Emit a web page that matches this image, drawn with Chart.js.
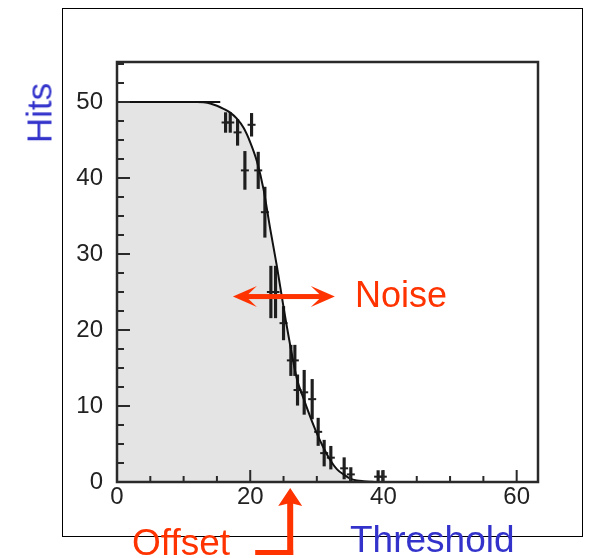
<!DOCTYPE html>
<html>
<head>
<meta charset="utf-8">
<script src="https://cdn.jsdelivr.net/npm/chart.js@4.4.1/dist/chart.umd.min.js"></script>
<style>
    body { margin: 0; background: #fff; }
    #wrap { position: relative; width: 593px; height: 558px; overflow: hidden; }
    #frame { position: absolute; left: 62px; top: 8px; width: 521px; height: 529px; box-sizing: border-box; border: 1px solid #000; }
    canvas { position: absolute; left: 0; top: 0; }
    .note { position: absolute; font-family: "Liberation Sans", Arial, sans-serif; line-height: 1; white-space: nowrap; }
    .red { color: #ff3300; }
    .blue { color: #3333cc; }
</style>
</head>
<body>
<div id="wrap">
    <div id="frame"></div>
    <canvas id="scurve" width="593" height="558"></canvas>
    <div class="note blue" style="left:39px; top:113px; font-size:35px; transform: translate(-50%, -50%) rotate(-90deg);">Hits</div>
    <div class="note blue" style="left:350px; top:521px; font-size:37px;">Threshold</div>
    <div class="note red" style="left:355px; top:277px; font-size:36px;">Noise</div>
    <div class="note red" style="left:132px; top:524px; font-size:37px;">Offset</div>
</div>
<script>
// Fitted S-curve: hits vs threshold
const thresholdSteps = [0, 1, 2, 3, 4, 5, 6, 7, 8, 9, 10, 11, 12, 13, 14, 15, 16, 17, 18, 19, 20,
    21, 22, 23, 24, 25, 26, 27, 28, 29, 30, 31, 32, 33, 34, 35, 36, 37, 38, 39, 40];
const fitHits = [50, 50, 50, 50, 50, 50, 50, 50, 50, 50, 50, 50, 50, 49.95, 49.8, 49.5, 49.1, 48.6, 47.8, 46.6, 44.7,
    42.2, 38.5, 33.3, 28.4, 23.0, 18.0, 13.6, 11.0, 8.6, 6.4, 4.5, 2.9, 1.7, 1.0, 0.45, 0.2, 0.1, 0.04, 0, 0];

// Plateau of the hit histogram
const plateauX = [0, 15.5];
const plateauHits = [50, 50];

// Measured points with their errors
const measThreshold = [16.3, 17.0, 18.1, 19.2, 20.2, 21.2, 22.2, 23.1, 23.8, 25.0, 26.1, 26.7, 27.1, 28.1,
    29.3, 30.2, 31.1, 32.1, 34.1, 35.1, 39.2, 39.9];
const measHits = [47.3, 47.3, 46.0, 41.0, 47.0, 41.0, 35.5, 25.0, 25.0, 20.9, 16.0, 16.0, 12.1, 11.8,
    10.9, 6.6, 3.8, 3.2, 1.8, 1.0, 0.7, 0.7];
const measErr = [1.3, 1.3, 1.7, 2.5, 1.5, 2.4, 3.3, 3.4, 3.4, 2.2, 2.0, 2.0, 2.0, 2.9,
    2.6, 1.8, 1.7, 1.5, 1.4, 0.9, 0.8, 0.8];

// Axis ticks
const xTickLabels = [0, 20, 40, 60];
const yTickLabels = [0, 10, 20, 30, 40, 50];
const xMinorStep = 5, xMajorStep = 20;
const yMinorStep = 2.5, yMajorStep = 10;

// Annotation anchors (data units)
const noiseFrom = 17.4, noiseTo = 32.7, noiseLevel = 24.4;
const offsetValue = 26.0;

const RED = '#ff3300';

const frameAndTicks = {
    id: 'frameAndTicks',
    afterDatasetsDraw(chart) {
        const { ctx, chartArea: a, scales: { x, y } } = chart;
        ctx.save();
        ctx.strokeStyle = '#2a2a2a';
        ctx.lineWidth = 2;
        ctx.beginPath();
        for (let v = 0; v <= x.max + 1e-6; v += xMinorStep) {
            const px = x.getPixelForValue(v);
            const len = v % xMajorStep === 0 ? 12 : 6;
            ctx.moveTo(px, a.bottom);
            ctx.lineTo(px, a.bottom - len);
        }
        for (let v = 0; v <= y.max + 1e-6; v += yMinorStep) {
            const py = y.getPixelForValue(v);
            const len = v % yMajorStep === 0 ? 13 : 7;
            ctx.moveTo(a.left, py);
            ctx.lineTo(a.left + len, py);
        }
        ctx.stroke();
        ctx.lineWidth = 2.5;
        ctx.strokeRect(a.left, a.top, a.right - a.left, a.bottom - a.top);
        ctx.restore();
    }
};

function arrowHead(ctx, tipX, tipY, dirX, dirY, len, half, notch) {
    // dir points from the tip back along the shaft
    const nx = -dirY, ny = dirX;
    ctx.beginPath();
    ctx.moveTo(tipX, tipY);
    ctx.lineTo(tipX + dirX * len + nx * half, tipY + dirY * len + ny * half);
    ctx.lineTo(tipX + dirX * notch, tipY + dirY * notch);
    ctx.lineTo(tipX + dirX * len - nx * half, tipY + dirY * len - ny * half);
    ctx.closePath();
    ctx.fill();
}

const annotations = {
    id: 'annotations',
    afterDraw(chart) {
        const { ctx, chartArea: a, scales: { x, y } } = chart;
        ctx.save();
        ctx.fillStyle = RED;

        // Noise: double arrow across the slope
        const x1 = x.getPixelForValue(noiseFrom);
        const x2 = x.getPixelForValue(noiseTo);
        const ny = y.getPixelForValue(noiseLevel);
        ctx.fillRect(x1 + 12, ny - 2.5, x2 - x1 - 24, 5);
        arrowHead(ctx, x1, ny, 1, 0, 24, 10.5, 13);
        arrowHead(ctx, x2, ny, -1, 0, 24, 10.5, 13);

        // Offset: bent arrow pointing at the 50% point
        const ox = x.getPixelForValue(offsetValue);
        const tipY = a.bottom + 6;
        arrowHead(ctx, ox, tipY, 0, 1, 18, 12, 15);
        ctx.fillRect(ox - 3, tipY + 14, 6, 553 - tipY - 14 + 2);
        ctx.fillRect(ox - 35, 550, 38, 5);
        ctx.restore();
    }
};

const fitPoints = thresholdSteps.map((t, i) => ({ x: t, y: fitHits[i] }));
const plateauPoints = plateauX.map((t, i) => ({ x: t, y: plateauHits[i] }));
const errBars = measThreshold.map((t, i) => ({ x: t, y: [measHits[i] - measErr[i], measHits[i] + measErr[i]] }));
const measPoints = measThreshold.map((t, i) => ({ x: t, y: measHits[i] }));

const tickFont = { family: '"Liberation Sans", Arial, sans-serif', size: 24 };

new Chart(document.getElementById('scurve'), {
    type: 'line',
    data: {
        datasets: [
            {
                label: 'fit',
                data: fitPoints,
                borderColor: '#111',
                borderWidth: 2,
                backgroundColor: '#e4e4e4',
                fill: 'origin',
                pointRadius: 0,
                cubicInterpolationMode: 'monotone',
                order: 1
            },
            {
                label: 'plateau',
                data: plateauPoints,
                borderColor: '#111',
                borderWidth: 2,
                pointRadius: 0,
                fill: false,
                order: 2
            },
            {
                type: 'bar',
                label: 'errors',
                data: errBars,
                backgroundColor: '#1e1e1e',
                borderWidth: 0,
                barThickness: 2.5,
                order: 3
            },
            {
                label: 'points',
                data: measPoints,
                showLine: false,
                pointStyle: 'line',
                pointRadius: 4,
                pointBorderWidth: 2,
                pointBorderColor: '#1e1e1e',
                borderColor: '#1e1e1e',
                fill: false,
                order: 3
            }
        ]
    },
    options: {
        responsive: false,
        animation: false,
        devicePixelRatio: 1,
        layout: { padding: { left: 0, top: 62, right: 55, bottom: 0 } },
        plugins: {
            legend: { display: false },
            tooltip: { enabled: false },
            filler: { drawTime: 'beforeDatasetsDraw' }
        },
        scales: {
            x: {
                type: 'linear',
                min: 0,
                max: 63.2,
                offset: false,
                grid: { display: false, drawTicks: false },
                border: { display: false },
                afterFit(scale) { scale.height = 76; },
                afterBuildTicks(scale) { scale.ticks = xTickLabels.map(v => ({ value: v })); },
                ticks: { font: tickFont, color: '#222', padding: 1, maxRotation: 0 }
            },
            y: {
                min: 0,
                max: 55.26,
                grid: { display: false, drawTicks: false },
                border: { display: false },
                afterFit(scale) { scale.width = 117; },
                afterBuildTicks(scale) { scale.ticks = yTickLabels.map(v => ({ value: v })); },
                ticks: { font: tickFont, color: '#222', padding: 14 }
            }
        }
    },
    plugins: [frameAndTicks, annotations]
});
</script>
</body>
</html>
